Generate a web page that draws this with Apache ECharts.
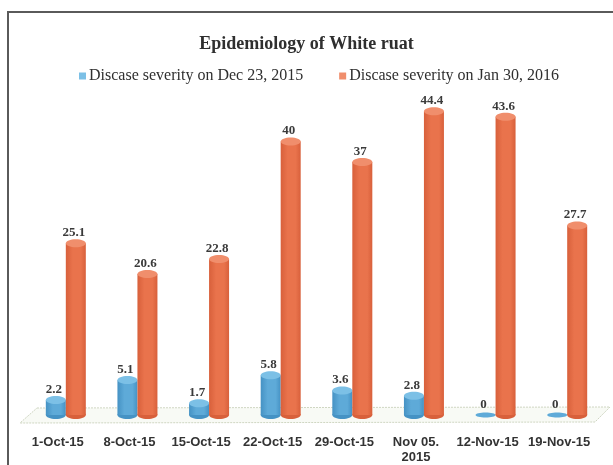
<!DOCTYPE html>
<html>
<head>
<meta charset="utf-8">
<script src="https://cdn.jsdelivr.net/npm/echarts@6/dist/echarts.min.js"></script>
<style>
  html, body { margin: 0; padding: 0; background: #ffffff; }
  #chart { width: 613px; height: 465px; }
</style>
</head>
<body>
<div id="chart"></div>
<script>
// Weekly sampling dates
const categories = ['1-Oct-15', '8-Oct-15', '15-Oct-15', '22-Oct-15', '29-Oct-15', 'Nov 05.\n2015', '12-Nov-15', '19-Nov-15'];
// Disease severity (%) at the two assessment dates
const severityDec23 = [2.2, 5.1, 1.7, 5.8, 3.6, 2.8, 0, 0];
const severityJan30 = [25.1, 20.6, 22.8, 40, 37, 44.4, 43.6, 27.7];
const seriesNames = ['Discase severity on Dec 23, 2015', 'Discase severity on Jan 30, 2016'];

const chart = echarts.init(document.getElementById('chart'), null, { renderer: 'canvas' });

// Cylinder renderer: body + bottom and top ellipses, value label above
function cylinder(colors, offset) {
  return function (params, api) {
    const idx = api.value(0);
    const val = api.value(1);
    const top = api.coord([idx, val]);
    const base = api.coord([idx, 0]);
    const w = 20, rx = w / 2, ry = 4;
    const cx = top[0] + offset;
    const grad = new echarts.graphic.LinearGradient(0, 0, 1, 0, [
      { offset: 0, color: colors.dark },
      { offset: 0.35, color: colors.main },
      { offset: 0.75, color: colors.main },
      { offset: 1, color: colors.dark }
    ]);
    const children = [];
    if (val > 0) {
      children.push({
        type: 'ellipse',
        shape: { cx: cx, cy: base[1], rx: rx, ry: ry },
        style: { fill: colors.dark }
      });
      children.push({
        type: 'rect',
        shape: { x: cx - rx, y: top[1], width: w, height: base[1] - top[1] },
        style: { fill: grad }
      });
      children.push({
        type: 'ellipse',
        shape: { cx: cx, cy: top[1], rx: rx, ry: ry },
        style: { fill: colors.cap }
      });
    } else {
      children.push({
        type: 'ellipse',
        shape: { cx: cx, cy: base[1], rx: rx, ry: 2.5 },
        style: { fill: colors.main }
      });
    }
    children.push({
      type: 'text',
      style: {
        x: cx - 2,
        y: top[1] - 4,
        text: String(val),
        align: 'center',
        verticalAlign: 'bottom',
        fill: '#3a3a3a',
        font: 'bold 13px "Liberation Serif", serif'
      }
    });
    return { type: 'group', children: children };
  };
}

const blue = { main: '#5eaad8', dark: '#4592c4', cap: '#7cc0e6' };
const orange = { main: '#e9734c', dark: '#d8603b', cap: '#f08e6c' };

chart.setOption({
  animation: false,
  backgroundColor: '#ffffff',
  graphic: [
    {
      type: 'rect',
      shape: { x: 8, y: 12, width: 640, height: 500 },
      style: { fill: 'none', stroke: '#5a5a5a', lineWidth: 2 },
      z: -10
    },
    {
      type: 'polygon',
      shape: { points: [[37, 408], [610, 407], [595, 422], [20, 423]] },
      style: { fill: '#f8faf5', stroke: '#cfd6c2', lineWidth: 1, lineDash: [2, 1] },
      z: -5
    }
  ],
  title: {
    text: 'Epidemiology of White ruat',
    left: 'center',
    top: 30,
    textStyle: {
      fontFamily: '"Liberation Serif", serif',
      fontWeight: 'bold',
      fontSize: 18,
      color: '#2f2f2f'
    }
  },
  legend: {
    top: 63,
    left: 74,
    itemWidth: 7,
    itemHeight: 7,
    itemGap: 36,
    icon: 'rect',
    textStyle: {
      fontFamily: '"Liberation Serif", serif',
      fontSize: 16,
      color: '#2f2f2f',
      padding: [0, 0, 0, -2]
    },
    data: [
      { name: seriesNames[0], itemStyle: { color: '#7cc0e6' } },
      { name: seriesNames[1], itemStyle: { color: '#f08e6c' } }
    ]
  },
  grid: { left: 30, right: 10, top: 73, bottom: 48 },
  xAxis: {
    type: 'category',
    data: categories,
    axisLine: { show: false },
    axisTick: { show: false },
    axisLabel: {
      interval: 0,
      margin: 20,
      fontFamily: '"Liberation Sans Narrow", sans-serif',
      fontWeight: 'bold',
      fontSize: 13,
      lineHeight: 15,
      color: '#333333',
      padding: [0, 16, 0, 0]
    }
  },
  yAxis: {
    type: 'value',
    min: 0,
    max: 50,
    show: false,
    splitLine: { show: false }
  },
  series: [
    {
      name: seriesNames[0],
      type: 'custom',
      itemStyle: { color: '#7cc0e6' },
      renderItem: cylinder(blue, -10),
      encode: { x: 0, y: 1 },
      data: severityDec23.map((v, i) => [i, v])
    },
    {
      name: seriesNames[1],
      type: 'custom',
      itemStyle: { color: '#f08e6c' },
      renderItem: cylinder(orange, 10),
      encode: { x: 0, y: 1 },
      data: severityJan30.map((v, i) => [i, v])
    }
  ]
});
</script>
</body>
</html>
